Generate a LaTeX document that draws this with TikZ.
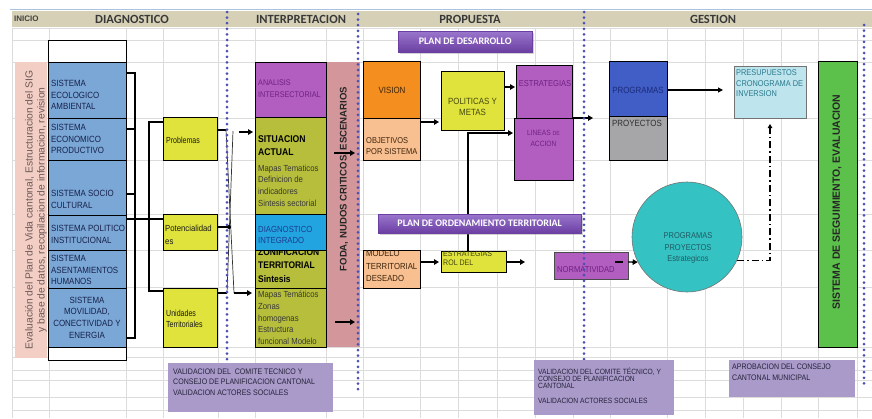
\documentclass[tikz,border=0pt]{standalone}
\usepackage{fontspec}
\setmainfont{Liberation Sans}
\newfontfamily\nf[FakeStretch=0.88]{Liberation Sans}
\newfontfamily\nnf[FakeStretch=0.8]{Liberation Sans}
\newfontfamily\hf{Carlito}
\usetikzlibrary{arrows.meta,shadows}
\newcommand\fs[2]{\fontsize{#1}{#2}\selectfont}
\definecolor{hdr}{HTML}{D6D1B6}
\definecolor{topline}{HTML}{A9C3DF}
\definecolor{gridc}{HTML}{DCDCDC}
\definecolor{dotb}{HTML}{4B4FB6}
\definecolor{pinkband}{HTML}{F2CEC5}
\definecolor{cellblue}{HTML}{7BA7D7}
\definecolor{navy}{HTML}{16224A}
\definecolor{yel}{HTML}{E0E33C}
\definecolor{olive}{HTML}{B6BE3C}
\definecolor{purp}{HTML}{B25EC0}
\definecolor{purtxt}{HTML}{6E2283}
\definecolor{dblue}{HTML}{22A4E0}
\definecolor{dbtxt}{HTML}{1C3D8E}
\definecolor{rose}{HTML}{D3969A}
\definecolor{orng}{HTML}{F38E1F}
\definecolor{peach}{HTML}{F8C091}
\definecolor{brtxt}{HTML}{3E240C}
\definecolor{oltxt}{HTML}{44480E}
\definecolor{bantop}{HTML}{9A76CC}
\definecolor{banbot}{HTML}{6A3EA2}
\definecolor{progblue}{HTML}{405EC5}
\definecolor{pgtxt}{HTML}{1B2B7C}
\definecolor{greyb}{HTML}{A6A6A9}
\definecolor{lightb}{HTML}{BEE4EE}
\definecolor{lbtxt}{HTML}{2A7A8C}
\definecolor{tealc}{HTML}{35C2C3}
\definecolor{tltxt}{HTML}{1F5B63}
\definecolor{greenb}{HTML}{5CC14B}
\definecolor{lav}{HTML}{A99ACA}
\definecolor{lavtxt}{HTML}{26233A}
\definecolor{lefttxt}{HTML}{6E5A57}
\newcommand\mybox[6][]{\node[box,#1,minimum width={(#4-#2)*1pt},minimum height={(#5-#3)*1pt}] (#6) at (#2,#3) {};}
\tikzset{
 box/.style={draw=black,line width=0.9pt,anchor=north west,inner sep=0pt,outer sep=0pt},
 tx/.style={inner sep=0pt,align=left,anchor=west},
 cellt/.style={tx,font=\nf\fs{9}{11.6},text=navy},
 conn/.style={line width=1.1pt,black},
 xline/.style={line width=0.7pt,black!80},
 arr/.style={line width=1.4pt,-{Triangle[length=5pt,width=5.5pt]}},
 dots/.style={line width=3pt,dotb,line cap=round,dash pattern=on 0pt off 5.6pt},
 banner/.style={anchor=north west,inner sep=0pt,top color=bantop,bottom color=banbot,draw=banbot,line width=0.4pt,
   drop shadow={shadow xshift=1.5pt,shadow yshift=-1.5pt,opacity=0.35},
   font=\hf\bfseries\fs{10}{12},text=white},
 hdrtxt/.style={font=\hf\bfseries\fs{12.5}{14},text=black!78},
 lavbox/.style={box,draw=none,fill=lav},
}
\begin{document}
\begin{tikzpicture}[x=1pt,y=-1pt]
\useasboundingbox (0,0) rectangle (872,418);
\fill[white] (0,0) rectangle (872,418);
% spreadsheet grid
\foreach \x in {12,49,126,163,218,255,326,363,420,458,497,535,573,610,667,705,743,781,818,857}
  \draw[gridc,line width=0.6pt] (\x,28) -- (\x,418);
\foreach \y in {28,40,62,118,160,214,250,287,347,357,370,380,397,410}
  \draw[gridc,line width=0.6pt] (12,\y) -- (872,\y);
% header
\draw[topline,line width=0.8pt] (10,9) -- (872,9);
\fill[hdr] (12,11) rectangle (872,27);
\node[anchor=west,inner sep=0pt,font=\bfseries\fs{8}{9},text=black!75] (hini) at (14,19) {INICIO};
\node[hdrtxt] (hdiag) at (132,19) {DIAGNOSTICO};
\node[hdrtxt] (hint) at (301,19) {INTERPRETACION};
\node[hdrtxt] (hprop) at (470,19) {PROPUESTA};
\node[hdrtxt] (hges) at (713,19) {GESTION};

% left band
\mybox[draw=none,fill=pinkband]{15}{62}{47}{358}{lband}
\node[rotate=90,align=center,inner sep=0pt,font=\fs{10.3}{12},text=lefttxt] (ltext) at (36,210)
  {Evaluación del Plan de Vida cantonal, Estructuracion del SIG\\y base de datos, recopilacion de informacion, revision};

% left column
\mybox[fill=white]{48}{40}{126}{360}{colbox}
\mybox[fill=cellblue]{48}{62}{126}{118}{eco}
\mybox[fill=cellblue]{48}{118}{126}{160}{econ}
\mybox[fill=cellblue]{48}{160}{126}{215}{soc}
\mybox[fill=cellblue]{48}{215}{126}{250}{pol}
\mybox[fill=cellblue]{48}{250}{126}{288}{asen}
\mybox[fill=cellblue]{48}{288}{126}{347}{mov}
\node[cellt] (teco) at (51,95) {SISTEMA\\ECOLOGICO\\AMBIENTAL};
\node[cellt] (tecon) at (51,139) {SISTEMA\\ECONOMICO\\PRODUCTIVO};
\node[cellt] (tsoc) at (51,199.5) {SISTEMA SOCIO\\CULTURAL};
\node[cellt] (tpol) at (51,234.5) {SISTEMA POLITICO\\INSTITUCIONAL};
\node[cellt] (tasen) at (51,270) {SISTEMA\\ASENTAMIENTOS\\HUMANOS};
\node[cellt,align=center,anchor=center] (tmov) at (87,317.5) {SISTEMA\\MOVILIDAD,\\CONECTIVIDAD Y\\ENERGIA};

% yellow boxes
\mybox[fill=yel]{163}{117}{217}{160}{prob}
\mybox[fill=yel]{163}{214}{217}{250}{pot}
\mybox[fill=yel]{163}{288}{217}{347}{unid}
\node[tx,font=\nnf\fs{8.8}{11},text=black!90] (tprob) at (166,140) {Problemas};
\node[tx,font=\nf\fs{8.8}{13},text=black!90] (tpot) at (165,234.5) {Potencialidad\\es};
\node[tx,font=\nnf\fs{8.8}{11.5},text=black!90] (tunid) at (166,319) {Unidades\\Territoriales};

% brackets
\coordinate (sp1) at (135,0);
\coordinate (sp2) at (149,0);
\draw[conn] ([yshift=17pt]eco.east) -- ([yshift=17pt]eco.east -| sp1) -- ([yshift=-20.5pt]mov.east -| sp1) -- ([yshift=-20.5pt]mov.east);
\draw[conn] ([yshift=10pt]econ.east) -- ([yshift=10pt]econ.east -| sp1);
\draw[conn] ([yshift=-6.5pt]soc.east) -- ([yshift=-6.5pt]soc.east -| sp1);
\draw[conn] ([yshift=13.5pt]pol.east) -- ([yshift=13.5pt]pol.east -| pot.west);
\draw[conn] ([yshift=16.5pt]prob.west) -- ([yshift=16.5pt]prob.west -| sp2) -- ([yshift=26.5pt]unid.west -| sp2) -- ([yshift=26.5pt]unid.west);

% crossing lines
\coordinate (xA) at (226,130);
\coordinate (xB) at (227,293);
\coordinate (xC) at (233,131);
\coordinate (xD) at (234,293);
\coordinate (xE) at (239,132);
\coordinate (xP) at (229,227);
\draw[conn] ([yshift=8.5pt]prob.east) -- (xA);
\draw[conn] ([yshift=24.5pt]unid.east) -- (xB);
\draw[conn] ([yshift=5pt]pot.east) -- (xP);
\draw[xline] (xA) -- (xD);
\draw[xline] (xB) -- (xC);
\fill (xP) circle (2pt);

% interpretation column
\mybox[fill=purp]{255}{62}{326}{117}{anal}
\mybox[fill=olive]{255}{117}{326}{214}{sit}
\mybox[fill=dblue]{255}{214}{326}{250}{diag}
\mybox[fill=olive]{255}{250}{326}{288}{zon}
\mybox[fill=olive]{255}{288}{326}{347}{mapz}
\mybox[draw=none,fill=rose]{326.5}{62}{360}{347}{foda}
\draw[arr,shorten >=2pt] (xE) -- (xE -| sit.west);
\draw[arr,shorten >=3pt] (xD) -- (xD -| mapz.west);
\node[tx,font=\nf\fs{8.2}{11.7},text=purtxt] (tanal) at (258,89) {ANALISIS\\INTERSECTORIAL};
\node[tx,font=\nf\bfseries\fs{9.8}{13},text=black] (tsitA) at (258,145.5) {SITUACION\\ACTUAL};
\node[tx,font=\nf\fs{8.8}{11.7},text=black!78] (tsitB) at (258,185.5) {Mapas Tematicos\\Definicion de\\indicadores\\Sintesis sectorial};
\node[tx,font=\nf\fs{8.8}{11.7},text=dbtxt] (tdiag) at (258,235) {DIAGNOSTICO\\INTEGRADO};
\begin{scope}
\clip (zon.north west) rectangle (zon.south east);
\node[tx,font=\nf\bfseries\fs{9.6}{13.3},text=black] (tzon) at (258,265.5) {ZONIFICACION\\TERRITORIAL\\Sintesis};
\end{scope}
\node[tx,font=\nf\fs{8.8}{11.7},text=black!78] (tmapz) at (258,318) {Mapas Temáticos\\Zonas\\homogenas\\Estructura\\funcional Modelo};
\node[rotate=90,inner sep=0pt,font=\bfseries\fs{9.6}{12},text=black!85] (tfoda) at (344,179) {FODA, NUDOS CRITICOS, ESCENARIOS};
\coordinate (fa) at (334,153);
\coordinate (fb) at (335,322);
\draw[arr,shorten >=5pt] (fa) -- (fa -| foda.east);
\draw[arr,shorten >=5pt] (fb) -- (fb -| foda.east);

% propuesta
\node[banner,minimum width=134pt,minimum height=21pt] (pdes) at (398,31) {PLAN DE DESARROLLO};
\mybox[fill=orng]{363}{61}{420}{118}{vis}
\mybox[fill=peach]{363}{118}{420}{160}{obj}
\mybox[fill=yel]{441}{71}{504}{130}{polm}
\mybox[fill=purp]{516}{65}{572}{118}{estr}
\mybox[fill=purp]{514}{118}{573}{180}{lin}
\node[font=\nf\fs{9}{11},text=brtxt,inner sep=0pt] (tvis) at (392,90) {VISION};
\node[tx,font=\nf\fs{8.5}{11},text=brtxt] (tobj) at (366,146.5) {OBJETIVOS\\POR SISTEMA};
\node[align=center,font=\nf\fs{9}{11.2},text=oltxt,inner sep=0pt] (tpolm) at (472.5,106.5) {POLITICAS Y\\METAS};
\node[font=\nf\fs{8.6}{11},text=purtxt,inner sep=0pt] (testr) at (545,84) {ESTRATEGIAS};
\node[align=center,font=\nf\fs{7.6}{11},text=purtxt,inner sep=0pt] (tlin) at (543.5,138.5) {LINEAS {\fs{6}{11}DE}\\ACCION};
\draw[arr,shorten >=2pt] ([yshift=-4pt]obj.north east) -- ([yshift=-4pt]obj.north east -| polm.west);
\draw[arr,shorten >=1pt] ([yshift=13.5pt]polm.east) -- ([yshift=13.5pt]polm.east -| estr.west);

\mybox[fill=peach]{363}{250}{420}{288}{mod}
\mybox[fill=yel]{441}{251}{506}{272}{erol}
\mybox[fill=purp,line width=0.6pt,draw=black!70]{554}{252}{628}{279}{norm}
\draw[arr,shorten >=1pt] ([xshift=-5.5pt]erol.north) |- ([yshift=16pt]lin.west);
\node[banner,minimum width=203pt,minimum height=19pt] (pord) at (378,214) {PLAN DE ORDENAMIENTO TERRITORIAL};
\begin{scope}
\clip (mod.north west) rectangle (mod.south east);
\node[tx,font=\nf\fs{8.8}{12.5},text=brtxt] (tmod) at (366,266) {MODELO\\TERRITORIAL\\DESEADO};
\end{scope}
\begin{scope}
\clip (erol.north west) rectangle (erol.south east);
\node[tx,font=\nf\fs{8}{8.6},text=oltxt] (terol) at (443,258) {ESTRATEGIAS\\ROL DEL};
\end{scope}
\node[tx,font=\nf\fs{8.6}{11},text=purtxt] (tnorm) at (557,270) {NORMATIVIDAD};
\draw[line width=1.5pt] (615,262) -- (623,262);
\coordinate (ef) at (525,262);
\draw[arr,shorten >=2pt] ([yshift=7pt]mod.east) -- ([yshift=7pt]mod.east -| erol.west);
\draw[arr] ([yshift=-0.5pt]erol.east) -- (ef);

% gestion
\mybox[fill=progblue]{609}{61}{667}{116}{progb}
\mybox[fill=greyb]{609}{116}{667}{160}{proy}
\draw[line width=0.9pt] (progb.north west) rectangle (proy.south east);
\draw[arr,shorten >=16pt] (lin.north east) -- (lin.north east -| progb.west);
\node[font=\nf\fs{9}{11},text=pgtxt,inner sep=0pt] (tprogb) at (638,90) {PROGRAMAS};
\node[tx,font=\nf\fs{9}{11},text=black!82] (tproy) at (612,123) {PROYECTOS};
\mybox[fill=lightb,draw=black!55,line width=0.6pt]{734}{66}{806}{118}{pres}
\node[tx,font=\nf\fs{8.4}{10.6},text=lbtxt] (tpres) at (736,83.5) {PRESUPUESTOS\\CRONOGRAMA DE\\INVERSION};
\draw[line width=1.1pt,-{Triangle[length=5pt,width=5pt]},shorten >=11pt] ([yshift=-1.5pt]progb.east) -- ([yshift=-1.5pt]progb.east -| pres.west);
\node[circle,draw=black!55,line width=0.6pt,fill=tealc,minimum size=110pt,inner sep=0pt] (circ) at (687,237) {};
\node[align=center,font=\nf\fs{8.5}{11.5},text=tltxt,inner sep=0pt] (tcirc) at (688,248) {PROGRAMAS\\PROYECTOS\\Estrategicos};
\draw[arr] ([yshift=3.5pt]norm.east) -- (circ.207);
\draw[line width=1.3pt,dash pattern=on 7pt off 3pt on 1.5pt off 3pt,-{Triangle[length=4pt,width=4.5pt]},shorten >=6pt] (circ.-25) -| (pres.south);
\mybox[fill=greenb]{818}{61}{857}{347}{seg}
\node[rotate=90,inner sep=0pt,font=\bfseries\fs{10.5}{12},text=black!85] (tseg) at (837,202) {SISTEMA DE SEGUIMIENTO, EVALUACION};

% dotted separators
\draw[dots] (227,12) -- (227,362);
\draw[dots] (358,14) -- (358,392);
\draw[dots] (584,12) -- (584,360);
\draw[dots] (864,25) -- (864,384);

% bottom boxes
\mybox[lavbox]{168}{363}{333}{412}{v1}
\node[tx,font=\nf\fs{8}{10.5},text=lavtxt] (tv1) at (173,382) {VALIDACION DEL\ \ COMITE TECNICO Y\\CONSEJO DE PLANIFICACION CANTONAL\\VALIDACION ACTORES SOCIALES};
\mybox[lavbox]{534}{360}{674}{415}{v2}
\node[tx,font=\nf\fs{7.6}{7.2},text=lavtxt] (tv2) at (538,385.5) {VALIDACION DEL COMITE TÉCNICO, Y\\CONSEJO DE PLANIFICACION\\CANTONAL\\[7pt]VALIDACION ACTORES SOCIALES};
\mybox[lavbox]{729}{360}{855}{397}{apr}
\node[tx,font=\nf\fs{8}{11},text=lavtxt] (tapr) at (732,372.5) {APROBACION DEL CONSEJO\\CANTONAL MUNICIPAL};
\end{tikzpicture}
\end{document}
